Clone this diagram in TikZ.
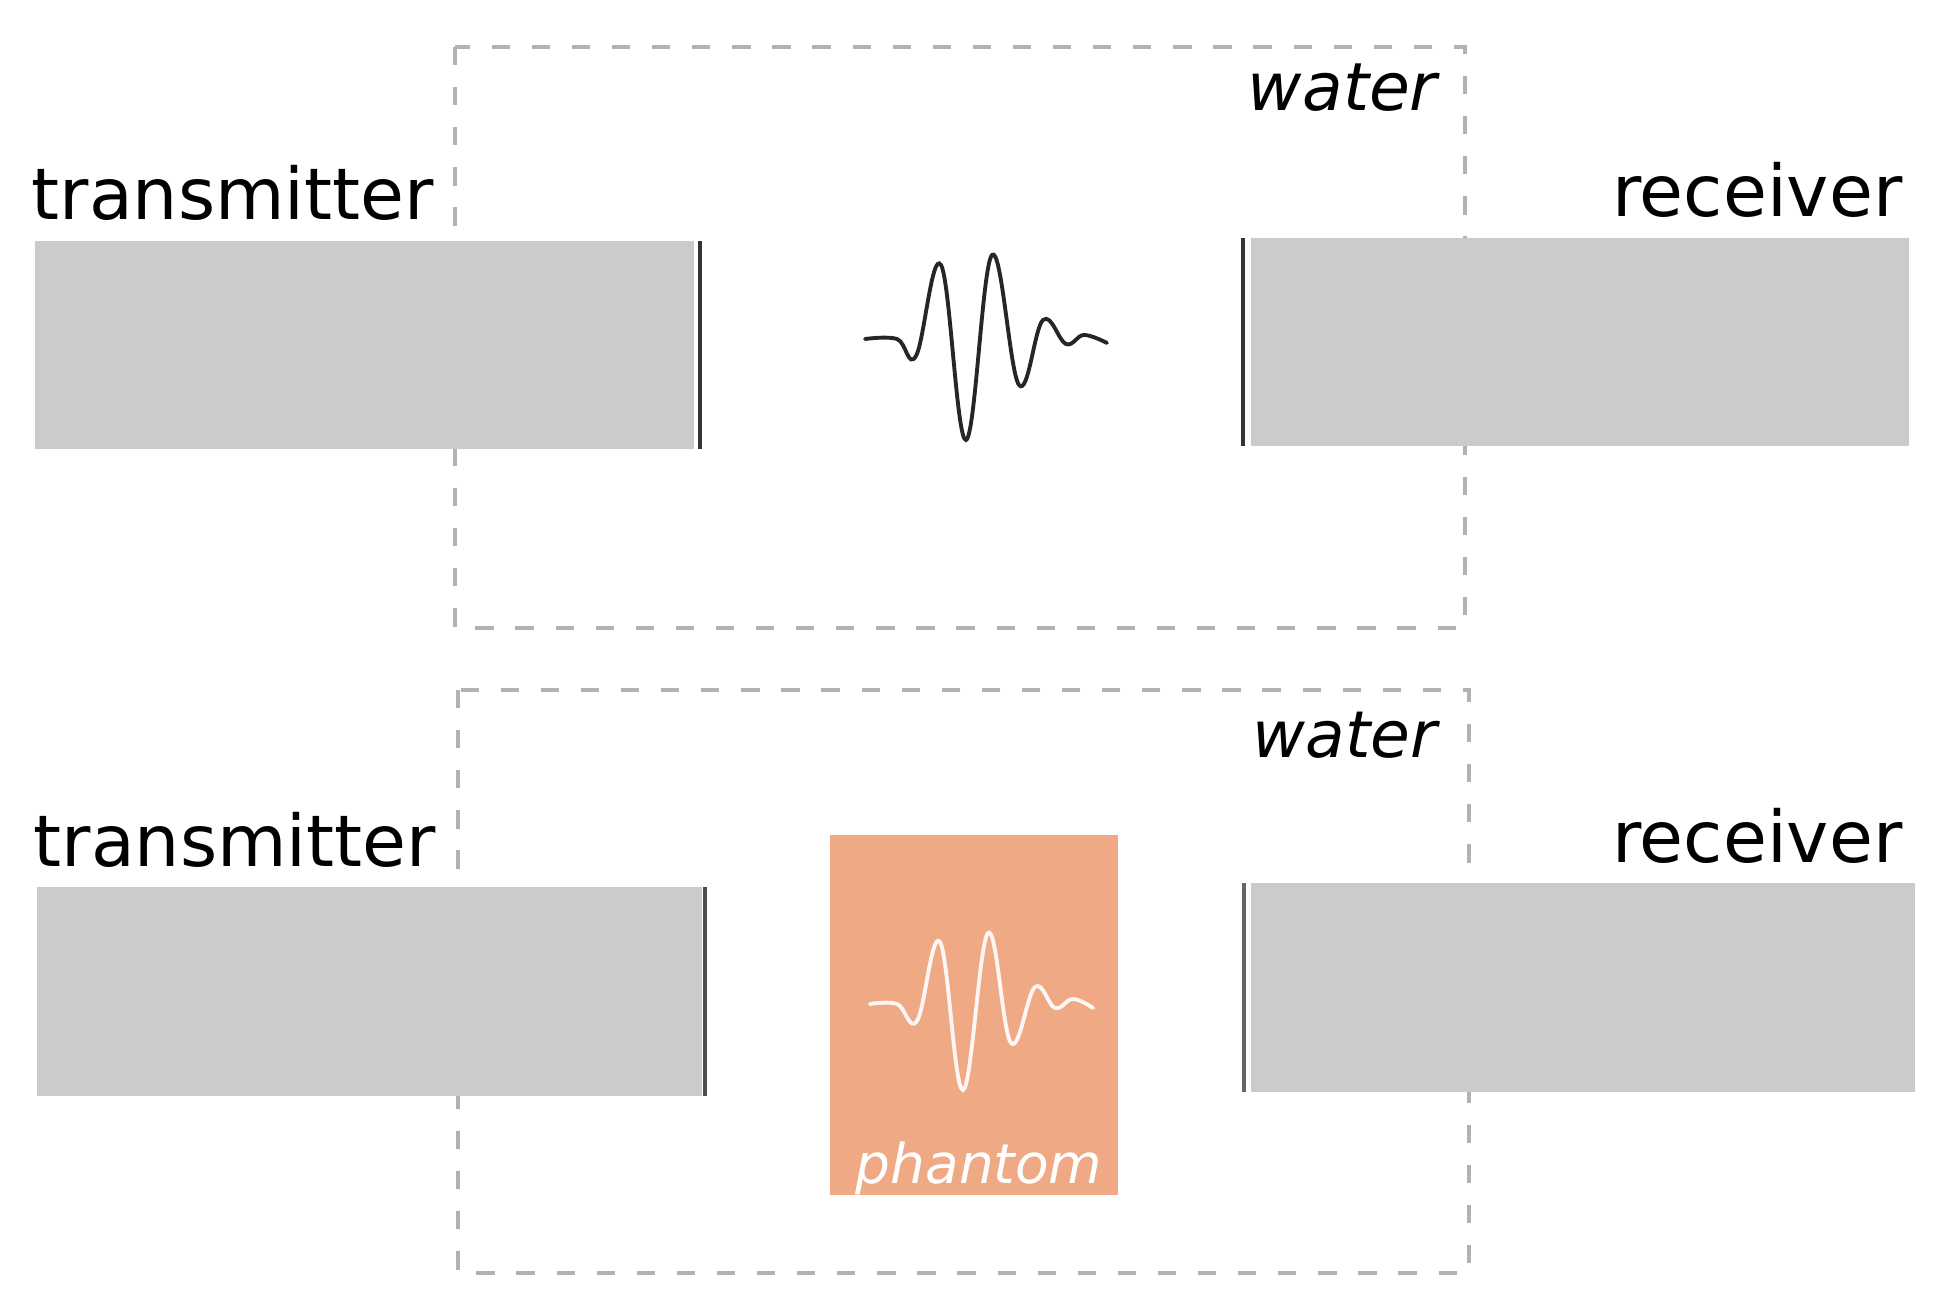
\documentclass[tikz,border=0pt]{standalone}
\usepackage{fontspec}
\setmainfont{DejaVu Sans}
\definecolor{phantomcol}{RGB}{239,169,133}
\definecolor{probecol}{RGB}{203,203,203}
\tikzset{
  waterbox/.style={gray!60,line width=0.9pt,dash pattern=on 5.2pt off 6.2pt},
  probe/.style={fill=probecol},
  face/.style={line width=1.3pt,black!80},
  wave/.style={line width=1.1pt,black!85,line cap=round,smooth,tension=0.65},
  bigtext/.style={inner sep=0pt,font=\fontsize{20.3}{24}\selectfont},
  slanttext/.style={inner sep=0pt,font=\fontsize{18.9}{22}\selectfont\itshape}
}
\begin{document}
\begin{tikzpicture}[x=0.01cm,y=-0.01cm]

\useasboundingbox (0,0) rectangle (1942,1310);

% Cuve du haut
\draw[waterbox] (455,47) rectangle (1465,628);
\node[slanttext,anchor=base east] (waterA) at (1438,111) {water};

% Emetteur du haut
\fill[probe] (35,241) rectangle (694,449);
\draw[face] (700,241) -- (700,449);
\node[bigtext,anchor=base west] (transA) at (31,220) {transmitter};

% Recepteur du haut
\fill[probe] (1251,238) rectangle (1909,446);
\draw[face] (1243,238) -- (1243,446);
\node[bigtext,anchor=base east] (recvA) at (1903,217) {receiver};

% Onde du haut
\draw[wave] plot coordinates {(865,339) (897,339) (916,356) (941,265) (966,440) (992,255) (1019,385) (1043,320) (1066,344) (1084,335) (1107,343)};

% Cuve du bas
\draw[waterbox] (458,690) rectangle (1469,1273);
\node[slanttext,anchor=base east,font=\fontsize{18.4}{22}\selectfont\itshape] (waterB) at (1438,758) {water};

% Emetteur du bas
\fill[probe] (37,887) rectangle (702,1096);
\draw[face,black!70] (705,887) -- (705,1096);
\node[bigtext,anchor=base west] (transB) at (33,867) {transmitter};

% Recepteur du bas
\fill[probe] (1251,883) rectangle (1915,1092);
\draw[face,black!60] (1244,883) -- (1244,1092);
\node[bigtext,anchor=base east] (recvB) at (1903,863) {receiver};

% Fantome
\fill[phantomcol] (830,835) rectangle (1118,1195);
\node[slanttext,white,anchor=base,font=\fontsize{15.6}{19}\selectfont\itshape] (phantom) at (979,1183) {phantom};

% Onde dans le fantome
\draw[wave,white!90!phantomcol] plot coordinates {(870,1004) (897,1004) (917,1021) (940,942) (963,1090) (988,933) (1011,1043) (1035,987) (1055,1008) (1073,999) (1093,1008)};

\end{tikzpicture}
\end{document}
